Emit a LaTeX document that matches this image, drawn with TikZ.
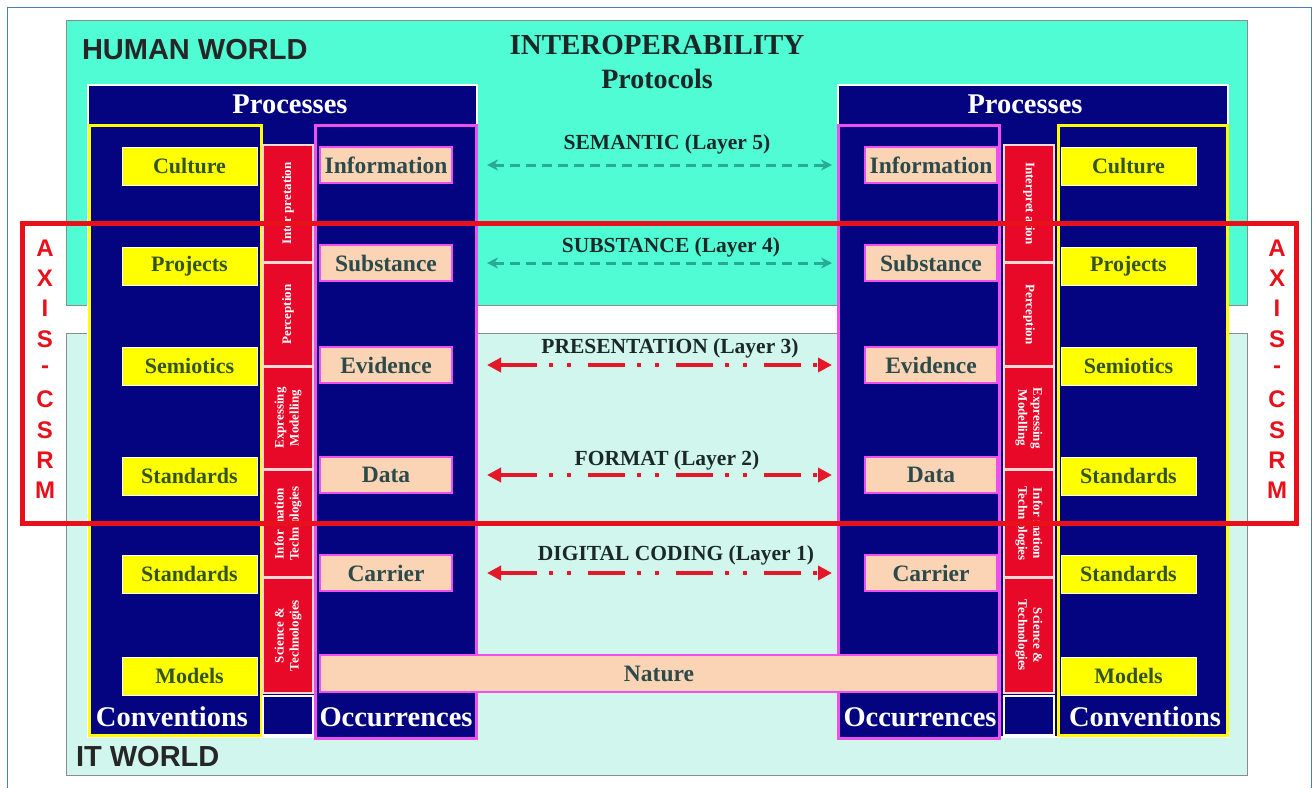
\documentclass[tikz,border=0pt]{standalone}
\usepackage{fontspec}
\setmainfont{Liberation Serif}
\newfontfamily\headsans{Liberation Sans}
\usetikzlibrary{arrows.meta}

\definecolor{framblue}{RGB}{74,126,187}
\definecolor{humanteal}{RGB}{80,252,212}
\definecolor{itcyan}{RGB}{208,246,238}
\definecolor{navyblk}{RGB}{4,4,128}
\definecolor{boxyellow}{RGB}{255,255,0}
\definecolor{peach}{RGB}{250,212,180}
\definecolor{magborder}{RGB}{238,80,238}
\definecolor{stripred}{RGB}{232,8,40}
\definecolor{stripline}{RGB}{255,215,215}
\definecolor{olivetxt}{RGB}{52,84,30}
\definecolor{slatetxt}{RGB}{44,74,74}
\definecolor{darktxt}{RGB}{28,40,40}
\definecolor{arrowteal}{RGB}{40,170,150}
\definecolor{arrowred}{RGB}{228,24,40}
\definecolor{axisred}{RGB}{232,16,26}

\begin{document}
\begin{tikzpicture}[x=1pt,y=-1pt,
  every node/.style={inner sep=0pt,outer sep=0pt},
  worldlabel/.style={font=\headsans\bfseries\fontsize{29}{31}\selectfont,text=black!85,anchor=west},
  block/.style={draw=white,line width=2pt,fill=navyblk,anchor=north west},
  convcol/.style={draw=boxyellow,line width=3pt,fill=navyblk,anchor=north west,minimum width=172pt,minimum height=610pt},
  occcol/.style={draw=magborder,line width=3pt,fill=navyblk,anchor=north west,minimum width=161pt,minimum height=613pt},
  whitetitle/.style={font=\bfseries\fontsize{28.5}{30}\selectfont,text=white},
  yellowbox/.style={draw=white,line width=1pt,fill=boxyellow,anchor=north west,minimum width=135pt,minimum height=38pt},
  peachbox/.style={draw=magborder,line width=1.5pt,fill=peach,anchor=north west,minimum width=132pt,minimum height=36pt},
  yellowtxt/.style={font=\bfseries\fontsize{22}{24}\selectfont,text=olivetxt},
  peachtxt/.style={font=\bfseries\fontsize{23.5}{25}\selectfont,text=slatetxt},
  stripseg/.style={draw=stripline,line width=1.5pt,fill=stripred,anchor=north west,minimum width=50pt},
  stripend/.style={draw=white,line width=1.5pt,fill=navyblk,anchor=north west,minimum width=50pt,minimum height=39pt},
  striptxt/.style={font=\bfseries\fontsize{13}{15}\selectfont,text=white,align=center},
  layertxt/.style={font=\bfseries\fontsize{21.5}{23}\selectfont,text=darktxt},
  semarrow/.style={draw=arrowteal,line width=3pt,dash pattern=on 10pt off 6pt,
    {Stealth[length=11pt,width=11pt]}-{Stealth[length=11pt,width=11pt]},shorten <=11pt,shorten >=6pt},
  codearrow/.style={draw=arrowred,line width=4pt,dash pattern=on 37pt off 12pt on 4pt off 14pt on 4pt off 17pt,
    {Triangle[length=14pt,width=14pt]}-{Triangle[length=14pt,width=14pt]},shorten <=11pt,shorten >=6pt},
  axisletter/.style={font=\headsans\bfseries\fontsize{24}{24}\selectfont,text=axisred},
]
\useasboundingbox (0,0) rectangle (1313,788);

% page frame
\draw[framblue,line width=1pt] (7,788) -- (7,7) -- (1311,7) -- (1311,788);

% the two worlds
\node[draw=black!45,line width=1pt,fill=humanteal,anchor=north west,minimum width=1181pt,minimum height=285pt] (human) at (66,20) {};
\node[draw=black!45,line width=1pt,fill=itcyan,anchor=north west,minimum width=1181pt,minimum height=442pt] (itw) at (66,333) {};
\node[worldlabel] (humanlbl) at (82,50) {HUMAN WORLD};
\node[worldlabel] (itlbl) at (76,757) {IT WORLD};
\node[font=\bfseries\fontsize{29}{31}\selectfont,text=darktxt] (interop) at (657,45) {INTEROPERABILITY};
\node[font=\bfseries\fontsize{28}{30}\selectfont,text=darktxt] (protocols) at (657,79) {Protocols};

% ---------------- left block ----------------
\node[block,minimum width=389pt,minimum height=652pt] (procL) at (88,85) {};
\node[whitetitle] (procLt) at (290,104) {Processes};
\node[convcol] (convL) at (89,125) {};
\node[whitetitle] (convLt) at (172,717) {Conventions};
\node[occcol] (occL) at (315,125) {};
\node[whitetitle] (occLt) at (396,717) {Occurrences};

\node[stripseg,minimum height=117pt] (intL) at (263,145) {};
\node[striptxt,rotate=90] (intLt) at (intL) {Inter pretation};
\node[stripseg,minimum height=103pt] (perL) at (263,263) {};
\node[striptxt,rotate=90] (perLt) at (perL) {Perception};
\node[stripseg,minimum height=102pt] (expL) at (263,367) {};
\node[striptxt,rotate=90] (expLt) at (expL) {Expressing\\Modelling};
\node[stripseg,minimum height=107pt] (infL) at (263,470) {};
\node[striptxt,rotate=90] (infLt) at (infL) {Infor mation\\Techn ologies};
\node[stripseg,minimum height=115pt] (sciL) at (263,578) {};
\node[striptxt,rotate=90] (sciLt) at (sciL) {Science \&\\Technologies};
\node[stripend] (endL) at (263,696) {};

\node[yellowbox] (cultL) at (122,147) {};
\node[yellowtxt] (cultLt) at (cultL) {Culture};
\node[yellowbox] (projL) at (122,247) {};
\node[yellowtxt] (projLt) at (projL) {Projects};
\node[yellowbox] (semiL) at (122,347) {};
\node[yellowtxt] (semiLt) at (semiL) {Semiotics};
\node[yellowbox] (stdaL) at (122,457) {};
\node[yellowtxt] (stdaLt) at (stdaL) {Standards};
\node[yellowbox] (stdbL) at (122,555) {};
\node[yellowtxt] (stdbLt) at (stdbL) {Standards};
\node[yellowbox] (modL) at (122,657) {};
\node[yellowtxt] (modLt) at (modL) {Models};

\node[peachbox] (infoL) at (320,147) {};
\node[peachtxt] (infoLt) at (infoL) {Information};
\node[peachbox] (substL) at (320,245) {};
\node[peachtxt] (substLt) at (substL) {Substance};
\node[peachbox] (evidL) at (320,347) {};
\node[peachtxt] (evidLt) at (evidL) {Evidence};
\node[peachbox] (dataL) at (320,457) {};
\node[peachtxt] (dataLt) at (dataL) {Data};
\node[peachbox] (carrL) at (320,555) {};
\node[peachtxt] (carrLt) at (carrL) {Carrier};

% ---------------- right block ----------------
\node[block,minimum width=390pt,minimum height=652pt] (procR) at (838,85) {};
\node[whitetitle] (procRt) at (1025,104) {Processes};
\node[occcol] (occR) at (838,125) {};
\node[whitetitle] (occRt) at (920,717) {Occurrences};
\node[convcol,minimum width=169pt] (convR) at (1058,125) {};
\node[whitetitle] (convRt) at (1145,717) {Conventions};

\node[stripseg,minimum height=117pt] (intR) at (1004,145) {};
\node[striptxt,rotate=-90] (intRt) at (intR) {Interpret ation};
\node[stripseg,minimum height=103pt] (perR) at (1004,263) {};
\node[striptxt,rotate=-90] (perRt) at (perR) {Perception};
\node[stripseg,minimum height=102pt] (expR) at (1004,367) {};
\node[striptxt,rotate=-90] (expRt) at (expR) {Expressing\\Modelling};
\node[stripseg,minimum height=107pt] (infR) at (1004,470) {};
\node[striptxt,rotate=-90] (infRt) at (infR) {Infor mation\\Techn ologies};
\node[stripseg,minimum height=115pt] (sciR) at (1004,578) {};
\node[striptxt,rotate=-90] (sciRt) at (sciR) {Science \&\\Technologies};
\node[stripend] (endR) at (1004,696) {};

\node[yellowbox] (cultR) at (1061,147) {};
\node[yellowtxt] (cultRt) at (cultR) {Culture};
\node[yellowbox] (projR) at (1061,247) {};
\node[yellowtxt] (projRt) at (projR) {Projects};
\node[yellowbox] (semiR) at (1061,347) {};
\node[yellowtxt] (semiRt) at (semiR) {Semiotics};
\node[yellowbox] (stdaR) at (1061,457) {};
\node[yellowtxt] (stdaRt) at (stdaR) {Standards};
\node[yellowbox] (stdbR) at (1061,555) {};
\node[yellowtxt] (stdbRt) at (stdbR) {Standards};
\node[yellowbox] (modR) at (1061,657) {};
\node[yellowtxt] (modRt) at (modR) {Models};

\node[peachbox] (infoR) at (865,147) {};
\node[peachtxt] (infoRt) at (infoR) {Information};
\node[peachbox] (substR) at (865,245) {};
\node[peachtxt] (substRt) at (substR) {Substance};
\node[peachbox] (evidR) at (865,347) {};
\node[peachtxt] (evidRt) at (evidR) {Evidence};
\node[peachbox] (dataR) at (865,457) {};
\node[peachtxt] (dataRt) at (dataR) {Data};
\node[peachbox] (carrR) at (865,555) {};
\node[peachtxt] (carrRt) at (carrR) {Carrier};

% shared base
\node[peachbox,minimum width=678pt,minimum height=37pt] (nature) at (320,655) {};
\node[peachtxt] (naturet) at (nature) {Nature};

% protocol layers
\node[layertxt] (l5) at (667,144) {SEMANTIC (Layer 5)};
\draw[semarrow] (infoL.east -| occL.east) -- (infoR.west -| occR.west);
\node[layertxt] (l4) at (671,247) {SUBSTANCE (Layer 4)};
\draw[semarrow] (substL.east -| occL.east) -- (substR.west -| occR.west);
\node[layertxt] (l3) at (670,348) {PRESENTATION (Layer 3)};
\draw[codearrow] (evidL.east -| occL.east) -- (evidR.west -| occR.west);
\node[layertxt] (l2) at (667,460) {FORMAT (Layer 2)};
\draw[codearrow] (dataL.east -| occL.east) -- (dataR.west -| occR.west);
\node[layertxt] (l1) at (676,555) {DIGITAL CODING (Layer 1)};
\draw[codearrow] (carrL.east -| occL.east) -- (carrR.west -| occR.west);

% AXIS-CSRM frame
\node[draw=axisred,line width=5pt,anchor=north west,minimum width=1274pt,minimum height=300pt] (axis) at (22,223) {};
\foreach \ch [count=\i from 0] in {A,X,I,S,-,C,S,R,M}{
  \node[axisletter] (axL\i) at (45,{248+30.3*\i}) {\ch};
  \node[axisletter] (axR\i) at (1277,{248+30.3*\i}) {\ch};
}
\end{tikzpicture}
\end{document}
